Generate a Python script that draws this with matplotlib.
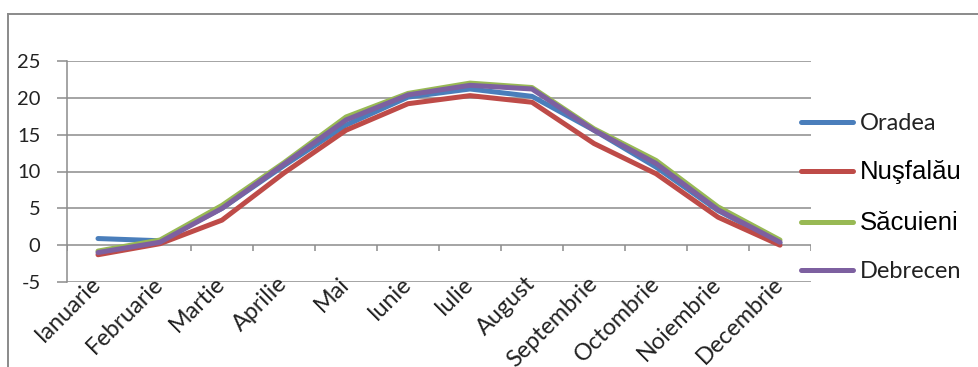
import matplotlib
matplotlib.use("Agg")
import matplotlib.pyplot as plt
from matplotlib.lines import Line2D
import numpy as np

plt.rcParams['axes.unicode_minus'] = False

months = ["Ianuarie", "Februarie", "Martie", "Aprilie", "Mai", "Iunie",
          "Iulie", "August", "Septembrie", "Octombrie", "Noiembrie", "Decembrie"]
oradea    = [0.9, 0.6, 5.0, 10.8, 16.3, 20.1, 21.2, 20.2, 15.6, 10.6, 4.7, 0.3]
nusfalau  = [-1.3, 0.2, 3.4, 9.8, 15.6, 19.2, 20.3, 19.4, 13.8, 9.7, 3.8, 0.0]
sacuieni  = [-0.8, 0.7, 5.4, 11.2, 17.4, 20.6, 22.0, 21.4, 15.8, 11.5, 5.2, 0.7]
debrecen  = [-1.0, 0.4, 5.0, 11.0, 17.0, 20.4, 21.7, 21.2, 15.6, 11.1, 4.8, 0.4]
series_names = ["Oradea", "Nuşfalău", "Săcuieni", "Debrecen"]
series_vals = [oradea, nusfalau, sacuieni, debrecen]
colors = ["#4A7EBB", "#BE4B48", "#98B954", "#7D60A0"]
yticks = [-5, 0, 5, 10, 15, 20, 25]

W, H = 979, 367
fig = plt.figure(figsize=(W / 100, H / 100), dpi=100)
ax = fig.add_axes([67 / W, (H - 282) / H, (811 - 67) / W, (282 - 61) / H])

x = np.arange(len(months))
handles = []
for name, vals, c in zip(series_names, series_vals, colors):
    h, = ax.plot(x, vals, color=c, lw=3.6, solid_capstyle='round',
                 solid_joinstyle='round', label=name, zorder=3)
    handles.append(h)

grid_c = "#8C8C8C"
ax.set_xlim(-0.5, len(months) - 0.5)
ax.set_ylim(min(yticks), max(yticks))
ax.set_yticks(yticks)
ax.set_yticklabels([str(v) for v in yticks])
for v in yticks:
    ax.axhline(v, color=grid_c, lw=1.1, zorder=1)

for s in ["top", "right", "bottom"]:
    ax.spines[s].set_visible(False)
ax.spines["left"].set_color(grid_c)
ax.spines["left"].set_linewidth(1.1)

ax.tick_params(axis='y', length=7, width=1.1, color=grid_c, pad=12,
               labelsize=14.5, labelcolor="#222222")
for t in ax.get_yticklabels():
    t.set_fontfamily("Lato")

# category boundary ticks on the zero line
bounds = np.arange(len(months) + 1) - 0.5
ax.vlines(bounds, 0, -0.75, color=grid_c, lw=1.1, zorder=1)

ax.set_xticks(x)
ax.set_xticklabels(months, rotation=45, ha='right', va='center',
                   rotation_mode='anchor', fontfamily="Lato", fontsize=16.8,
                   color="#222222")
ax.tick_params(axis='x', length=0, pad=-1)

leg = ax.legend(handles=handles, loc='upper left',
                bbox_to_anchor=(801 / W, (H - 113) / H),
                bbox_transform=fig.transFigure, frameon=False,
                fontsize=17, handlelength=2.2, handletextpad=0.3,
                labelspacing=1.12, borderaxespad=0, borderpad=0)
texts = leg.get_texts()
styles = [("Lato", 17, "#222222"), ("Liberation Sans", 18.5, "black"),
          ("Liberation Sans", 18.5, "black"), ("Lato", 17, "#222222")]
for t, (fam, sz, col) in zip(texts, styles):
    t.set_fontfamily(fam)
    t.set_fontsize(sz)
    t.set_color(col)

# outer chart border (left and top visible)
border_c = "#8A8A8A"
fig.add_artist(Line2D([8 / W, 8 / W], [0, (H - 14) / H], color=border_c,
                      lw=1.4, transform=fig.transFigure))
fig.add_artist(Line2D([8 / W, 1], [(H - 14) / H, (H - 14) / H], color=border_c,
                      lw=1.4, transform=fig.transFigure))

fig.savefig("out.png", dpi=100)
